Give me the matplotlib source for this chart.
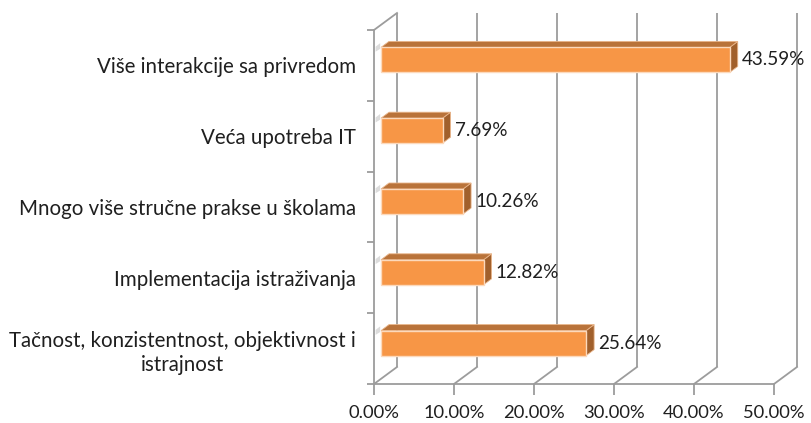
import numpy as np
import matplotlib.pyplot as plt
from matplotlib.patches import Polygon

categories = [
    "Više interakcije sa privredom",
    "Veća upotreba IT",
    "Mnogo više stručne prakse u školama",
    "Implementacija istraživanja",
    "Tačnost, konzistentnost, objektivnost i\nistrajnost",
]
values = [43.59, 7.69, 10.26, 12.82, 25.64]
x_ticks = [0, 10, 20, 30, 40, 50]

plt.rcParams['font.family'] = ['Lato', 'DejaVu Sans']

W, H = 811, 423
fig = plt.figure(figsize=(W / 100, H / 100), dpi=100)
ax = fig.add_axes([374 / W, 1 - 384 / H, 400 / W, 354 / H])
ax.set_xlim(0, 50)
ax.set_ylim(4.5, -0.5)

# pixel -> data units (axes box is fixed)
px_x = 50 / 400
px_y = 5 / 354

grid_c = '#9c9c9c'
text_c = '#1f1f1f'

# back wall, floor and left wall of the 3d box
wall_dx, wall_dy = 23 * px_x, 17 * px_y
ax.vlines([t + wall_dx for t in x_ticks], 4.5 - wall_dy, -0.5 - wall_dy,
          color=grid_c, lw=1.3, clip_on=False, zorder=1)
for t in x_ticks:
    ax.plot([t, t + wall_dx], [4.5, 4.5 - wall_dy], color=grid_c, lw=1.3,
            clip_on=False, zorder=1)
ax.plot([0, wall_dx], [-0.5, -0.5 - wall_dy], color=grid_c, lw=1.3,
        clip_on=False, zorder=1)

# bars: front face, top and side
bar_x0 = 7 * px_x
bar_shift = 5.5 * px_y
bar_h = 25 * px_y
dep_x, dep_y = 8 * px_x, 6 * px_y
y_pos = np.arange(len(values)) - bar_shift
ax.barh(y_pos, values, height=bar_h, left=bar_x0, color='#F79646',
        edgecolor='#FCD9BC', lw=1, zorder=3)
for y, v in zip(y_pos, values):
    x1 = bar_x0 + v
    yt, yb = y - bar_h / 2, y + bar_h / 2
    # faint shadow on the left wall
    ax.add_patch(Polygon([(0.2, yt - 0.01), (bar_x0 - 0.1, yt - 0.06),
                          (bar_x0 - 0.1, yt + 0.02), (0.2, yt + 0.06)],
                         closed=True, fc='#dcdcdc', ec='none', zorder=1))
    ax.add_patch(Polygon([(x1, yt), (x1 + dep_x, yt - dep_y),
                          (x1 + dep_x, yb - dep_y), (x1, yb)],
                         closed=True, fc='#A1602C', ec='#E9B58A', lw=0.6, zorder=2))
    ax.add_patch(Polygon([(bar_x0, yt), (x1, yt), (x1 + dep_x, yt - dep_y),
                          (bar_x0 + dep_x, yt - dep_y)],
                         closed=True, fc='#B9733A', ec='#E9B58A', lw=0.6, zorder=2))
    ax.annotate(f"{v:.2f}%", xy=(x1 + dep_x, y), xytext=(4, 0),
                textcoords='offset pixels', ha='left', va='center',
                fontsize=13.6, color=text_c, annotation_clip=False)

ax.set_yticks(range(len(categories)), categories)
ax.set_yticks(np.arange(-0.5, len(categories), 1), minor=True)
for lab in ax.get_yticklabels():
    lab.set_multialignment('center')
    lab.set_linespacing(1.25)
ax.tick_params(axis='y', which='major', length=0, pad=13, labelsize=14.8,
               labelcolor=text_c)
ax.tick_params(axis='y', which='minor', length=5, width=1.3, color=grid_c)

ax.set_xticks(x_ticks, [f"{t:.2f}%" for t in x_ticks])
ax.tick_params(axis='x', length=8, width=1.3, color=grid_c, pad=7,
               labelsize=13.2, labelcolor=text_c)

for s in ['top', 'right']:
    ax.spines[s].set_visible(False)
for s in ['left', 'bottom']:
    ax.spines[s].set_color(grid_c)
    ax.spines[s].set_linewidth(1.3)
ax.patch.set_alpha(0)

fig.savefig('out.png', dpi=100)
